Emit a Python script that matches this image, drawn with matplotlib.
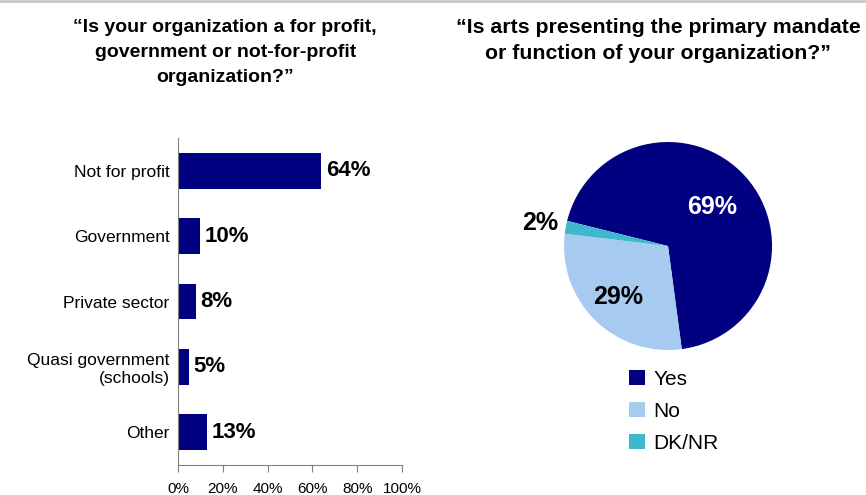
import matplotlib
matplotlib.use("Agg")
import numpy as np
import matplotlib.pyplot as plt
from matplotlib.patches import Patch
from matplotlib.lines import Line2D

plt.rcParams['font.family'] = ['Liberation Sans', 'DejaVu Sans']

# bar chart data
org_types = ["Not for profit", "Government", "Private sector",
             "Quasi government\n(schools)", "Other"]
org_pct = [64, 10, 8, 5, 13]
x_ticks = [0, 20, 40, 60, 80, 100]

# pie data
mandate_labels = ["Yes", "No", "DK/NR"]
mandate_pct = [69, 29, 2]

navy = "#000080"
pie_colors = [navy, "#A6CAF0", "#3DB8CC"]

fig = plt.figure(figsize=(8.66, 4.95), dpi=100)

# thin grey line along the top of the slide
fig.add_artist(Line2D([0, 1], [0.998, 0.998], transform=fig.transFigure,
                      color="#C8C8C8", lw=2))

# titles
fig.text(0.26, 0.962, "\u201cIs your organization a for profit,\ngovernment or not-for-profit\norganization?\u201d",
         ha="center", va="top", fontsize=14, fontweight="bold", linespacing=1.62)
fig.text(0.76, 0.964, "\u201cIs arts presenting the primary mandate\nor function of your organization?\u201d",
         ha="center", va="top", fontsize=15.3, fontweight="bold", linespacing=1.45)

# --- horizontal bars
ax = fig.add_axes([0.2055, 0.0606, 0.2587, 0.6606])
y = np.arange(len(org_types))
ax.barh(y, org_pct, height=0.55, color=navy)
for yi, v in zip(y, org_pct):
    ax.text(v + 2, yi, f"{v}%", va="center", ha="left",
            fontsize=16, fontweight="bold")
ax.set_ylim(len(org_types) - 0.5, -0.5)
ax.set_xlim(0, 100)
ax.set_yticks(y)
ax.set_yticklabels(org_types, fontsize=12.5)
ax.tick_params(axis="y", length=0, pad=6)
ax.set_xticks(x_ticks)
ax.set_xticklabels([f"{t}%" for t in x_ticks], fontsize=11)
ax.tick_params(axis="x", length=5, color="#808080", pad=7)
for s in ["top", "right"]:
    ax.spines[s].set_visible(False)
for s in ["left", "bottom"]:
    ax.spines[s].set_color("#808080")

# --- pie
pax = fig.add_axes([0.6513, 0.2929, 0.2402, 0.4202])
wedges, _ = pax.pie(mandate_pct, colors=pie_colors, startangle=166,
                    counterclock=False, radius=1.0)
pax.set_xlim(-1, 1)
pax.set_ylim(-1, 1)
pax.set_aspect("equal")
label_r = [0.57, 0.69, 1.25]
label_c = ["white", "black", "black"]
for w, v, r, c in zip(wedges, mandate_pct, label_r, label_c):
    ang = np.deg2rad((w.theta1 + w.theta2) / 2)
    pax.text(r * np.cos(ang), r * np.sin(ang), f"{v}%", ha="center", va="center",
             fontsize=18, fontweight="bold", color=c)

handles = [Patch(facecolor=c, edgecolor="none") for c in pie_colors]
fig.legend(handles, mandate_labels, loc="upper left",
           bbox_to_anchor=(0.717, 0.27), frameon=False, fontsize=15,
           handlelength=0.75, handleheight=0.75, handletextpad=0.4,
           labelspacing=0.62, borderaxespad=0)

fig.savefig("out.png", dpi=100)
